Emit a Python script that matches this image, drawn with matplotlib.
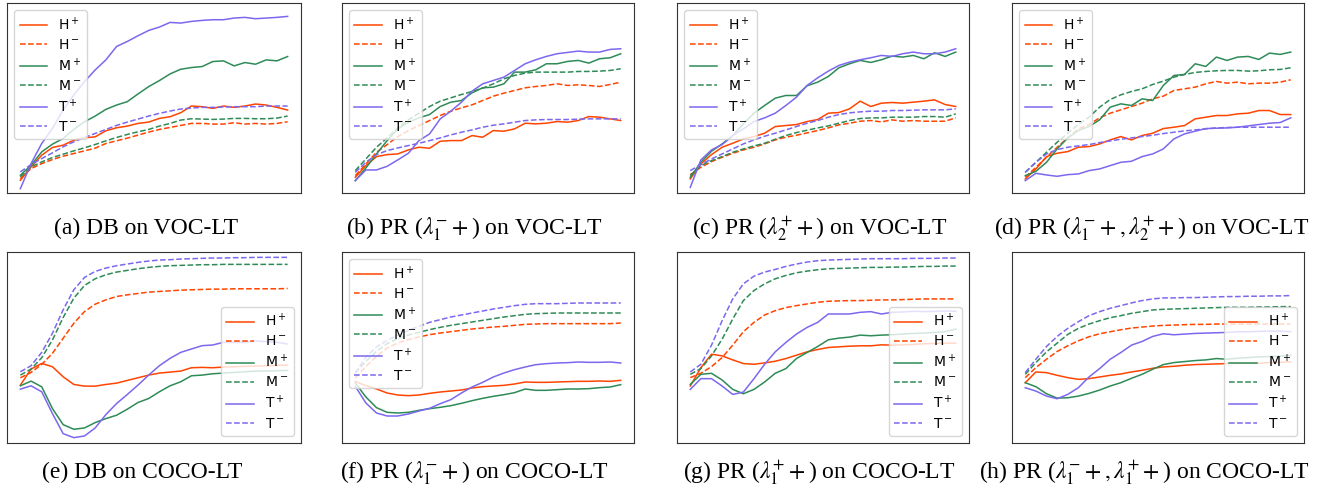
import matplotlib
matplotlib.use("Agg")
import matplotlib.pyplot as plt

epochs = list(range(0, 101, 4))

# ---- (a) DB on VOC-LT
a_Hp = [60, 100, 135, 158, 165, 180, 187, 190, 208, 217, 222, 230, 234, 245, 250, 262, 282, 280, 275, 282, 278, 282, 288, 285, 278, 270]
a_Hm = [65, 95, 110, 122, 132, 140, 148, 156, 170, 178, 186, 195, 204, 212, 218, 224, 230, 230, 228, 228, 232, 228, 230, 228, 230, 235]
a_Mp = [75, 105, 145, 168, 185, 212, 235, 252, 272, 285, 295, 318, 340, 358, 378, 392, 397, 400, 415, 417, 402, 412, 407, 420, 417, 430]
a_Mm = [70, 100, 115, 128, 138, 148, 157, 167, 178, 188, 197, 205, 212, 222, 230, 240, 244, 243, 242, 243, 245, 245, 244, 244, 246, 252]
a_Tp = [35, 110, 170, 215, 270, 315, 355, 390, 420, 460, 475, 492, 508, 518, 532, 530, 535, 538, 540, 540, 545, 547, 543, 545, 547, 550]
a_Tm = [85, 107, 125, 142, 160, 175, 188, 200, 212, 224, 234, 243, 252, 260, 267, 273, 276, 278, 278, 279, 280, 280, 280, 282, 282, 282]

# ---- (b) PR (lambda1- +) on VOC-LT
b_Hp = [70, 105, 132, 138, 140, 152, 160, 157, 178, 180, 180, 195, 190, 210, 208, 215, 232, 230, 232, 237, 235, 240, 252, 250, 245, 240]
b_Hm = [75, 110, 145, 168, 192, 210, 225, 240, 255, 268, 278, 287, 300, 313, 322, 330, 338, 342, 345, 350, 345, 347, 345, 342, 348, 355]
b_Mp = [60, 98, 140, 180, 215, 235, 248, 258, 282, 295, 300, 323, 338, 340, 350, 385, 385, 392, 410, 410, 417, 420, 412, 425, 428, 440]
b_Mm = [90, 125, 160, 188, 218, 242, 262, 282, 298, 308, 318, 327, 337, 350, 365, 375, 382, 385, 385, 385, 385, 387, 387, 388, 390, 395]
b_Tp = [60, 92, 92, 103, 122, 142, 180, 200, 245, 268, 295, 328, 350, 360, 370, 390, 410, 422, 432, 440, 444, 448, 445, 445, 453, 455]
b_Tm = [85, 115, 138, 150, 158, 165, 172, 180, 188, 197, 205, 212, 220, 226, 230, 235, 240, 242, 243, 243, 243, 244, 245, 245, 245, 245]

# ---- (c) PR (lambda2+ +) on VOC-LT
c_Hp = [65, 110, 138, 160, 172, 185, 192, 202, 222, 225, 228, 237, 243, 262, 264, 275, 298, 282, 292, 294, 292, 295, 298, 302, 288, 282]
c_Hm = [78, 100, 117, 130, 142, 152, 160, 170, 182, 190, 196, 203, 210, 218, 227, 232, 238, 240, 236, 242, 238, 240, 238, 238, 238, 248]
c_Mp = [70, 115, 148, 170, 195, 230, 262, 285, 307, 315, 315, 344, 355, 372, 398, 410, 420, 414, 422, 433, 430, 435, 425, 443, 432, 445]
c_Mm = [75, 105, 120, 132, 145, 155, 164, 172, 184, 195, 204, 211, 218, 224, 232, 240, 246, 248, 248, 250, 250, 250, 252, 252, 250, 260]
c_Tp = [40, 122, 152, 168, 195, 215, 237, 248, 262, 285, 310, 345, 368, 388, 405, 415, 422, 428, 435, 432, 440, 445, 440, 440, 445, 455]
c_Tm = [90, 108, 125, 140, 155, 170, 182, 193, 202, 212, 222, 232, 240, 250, 258, 263, 266, 268, 268, 270, 270, 271, 272, 272, 272, 275]

# ---- (d) PR (lambda1- +, lambda2+ +) on VOC-LT
d_Hp = [65, 95, 132, 142, 147, 160, 162, 170, 182, 192, 182, 195, 202, 216, 220, 225, 245, 250, 255, 255, 260, 262, 270, 270, 258, 258]
d_Hm = [70, 100, 130, 160, 188, 215, 228, 248, 262, 272, 282, 292, 305, 313, 330, 335, 340, 350, 357, 352, 355, 350, 352, 352, 355, 362]
d_Mp = [75, 88, 115, 155, 188, 210, 222, 242, 280, 290, 285, 305, 300, 345, 375, 378, 410, 402, 430, 420, 430, 432, 423, 442, 438, 445]
d_Mm = [85, 115, 145, 175, 202, 228, 250, 280, 303, 317, 327, 335, 348, 358, 370, 378, 384, 387, 389, 390, 390, 388, 389, 392, 393, 398]
d_Tp = [60, 82, 77, 73, 78, 80, 90, 95, 105, 115, 118, 132, 140, 155, 185, 200, 208, 216, 217, 218, 220, 224, 228, 232, 234, 248]
d_Tm = [85, 115, 140, 153, 160, 164, 168, 174, 179, 184, 188, 192, 196, 201, 205, 209, 212, 215, 218, 219, 220, 220, 220, 220, 220, 220]

# ---- (e) DB on COCO-LT
e_Hp = [180, 228, 245, 235, 205, 182, 177, 177, 182, 186, 194, 202, 210, 216, 219, 222, 232, 233, 232, 234, 235, 236, 237, 238, 239, 240]
e_Hm = [202, 218, 242, 275, 320, 365, 400, 422, 435, 445, 450, 454, 458, 460, 462, 464, 465, 466, 467, 467, 468, 468, 468, 468, 468, 469]
e_Mp = [178, 192, 175, 110, 62, 48, 52, 68, 80, 90, 108, 128, 140, 160, 178, 190, 208, 210, 214, 216, 218, 220, 222, 222, 223, 224]
e_Mm = [210, 228, 262, 315, 382, 440, 478, 498, 510, 518, 523, 528, 532, 535, 537, 538, 539, 540, 540, 541, 541, 541, 541, 541, 541, 541]
e_Tp = [168, 178, 160, 95, 35, 23, 28, 52, 92, 125, 152, 180, 210, 238, 260, 278, 288, 298, 300, 308, 308, 308, 312, 310, 308, 303]
e_Tm = [220, 238, 278, 335, 405, 465, 502, 520, 530, 537, 542, 547, 551, 554, 555, 557, 558, 559, 560, 560, 561, 561, 562, 562, 562, 562]

# ---- (f) PR (lambda1- +) on COCO-LT
f_Hp = [195, 182, 172, 160, 154, 152, 154, 159, 163, 166, 169, 175, 179, 181, 183, 187, 193, 192, 192, 193, 194, 195, 195, 196, 195, 198]
f_Hm = [205, 240, 270, 295, 310, 320, 328, 335, 340, 344, 348, 352, 355, 358, 360, 363, 366, 367, 368, 368, 368, 368, 368, 368, 368, 370]
f_Mp = [190, 148, 116, 102, 100, 102, 108, 113, 117, 122, 129, 137, 144, 150, 155, 161, 172, 168, 168, 170, 172, 172, 173, 176, 178, 185]
f_Mm = [220, 255, 285, 308, 323, 334, 342, 350, 357, 363, 368, 373, 378, 383, 388, 392, 396, 398, 399, 400, 400, 400, 400, 400, 400, 400]
f_Tp = [180, 130, 100, 91, 91, 97, 106, 114, 128, 140, 160, 178, 192, 208, 220, 230, 238, 245, 248, 250, 251, 253, 252, 252, 253, 250]
f_Tm = [220, 268, 298, 318, 334, 348, 360, 372, 380, 388, 394, 400, 406, 412, 417, 422, 426, 428, 428, 428, 429, 430, 430, 430, 430, 430]

# ---- (g) PR (lambda1+ +) on COCO-LT
g_Hp = [180, 235, 275, 270, 258, 247, 245, 249, 254, 262, 272, 282, 289, 295, 297, 299, 300, 300, 303, 302, 303, 304, 306, 307, 308, 308]
g_Hm = [205, 218, 238, 265, 302, 342, 370, 392, 405, 414, 420, 425, 430, 433, 434, 435, 435, 436, 437, 437, 438, 439, 440, 440, 440, 440]
g_Mp = [185, 215, 218, 198, 170, 157, 170, 192, 218, 232, 262, 280, 298, 318, 323, 326, 332, 330, 332, 333, 335, 337, 338, 340, 342, 350]
g_Mm = [215, 232, 270, 320, 380, 435, 465, 485, 500, 510, 518, 523, 527, 530, 531, 532, 533, 534, 534, 535, 535, 536, 537, 537, 538, 538]
g_Tp = [170, 202, 202, 180, 155, 162, 202, 245, 282, 310, 335, 355, 370, 395, 395, 395, 400, 402, 395, 400, 401, 403, 402, 403, 404, 403]
g_Tm = [222, 245, 302, 375, 440, 485, 508, 520, 528, 537, 544, 550, 554, 556, 557, 558, 559, 560, 560, 560, 560, 561, 561, 561, 562, 562]

# ---- (h) PR (lambda1- +, lambda1+ +) on COCO-LT
h_Hp = [190, 222, 220, 212, 205, 200, 202, 207, 212, 216, 222, 227, 233, 237, 239, 242, 244, 245, 246, 247, 248, 248, 248, 250, 251, 252]
h_Hm = [205, 235, 260, 283, 300, 315, 327, 336, 342, 348, 353, 356, 359, 361, 362, 363, 364, 364, 365, 365, 365, 365, 365, 365, 365, 365]
h_Mp = [190, 178, 157, 144, 145, 150, 158, 168, 180, 190, 203, 215, 230, 244, 250, 253, 256, 258, 262, 260, 263, 265, 267, 268, 269, 272]
h_Mm = [215, 250, 282, 308, 334, 352, 365, 375, 384, 390, 397, 402, 407, 409, 410, 411, 412, 413, 414, 415, 415, 415, 416, 416, 417, 417]
h_Tp = [175, 165, 150, 142, 155, 175, 207, 232, 260, 280, 302, 313, 328, 336, 333, 335, 337, 338, 339, 340, 342, 342, 343, 344, 344, 342]
h_Tm = [220, 260, 298, 328, 352, 372, 390, 402, 412, 420, 428, 435, 440, 443, 443, 444, 444, 445, 446, 447, 447, 448, 448, 449, 449, 450]

series_labels = ['H$^+$', 'H$^-$', 'M$^+$', 'M$^-$', 'T$^+$', 'T$^-$']
captions = [
    '(a) DB on VOC-LT',
    r'(b) PR ($\lambda_1^{-}+$) on VOC-LT',
    r'(c) PR ($\lambda_2^{+}+$) on VOC-LT',
    r'(d) PR ($\lambda_1^{-}+, \lambda_2^{+}+$) on VOC-LT',
    '(e) DB on COCO-LT',
    r'(f) PR ($\lambda_1^{-}+$) on COCO-LT',
    r'(g) PR ($\lambda_1^{+}+$) on COCO-LT',
    r'(h) PR ($\lambda_1^{-}+, \lambda_1^{+}+$) on COCO-LT',
]
panels = [
    (a_Hp, a_Hm, a_Mp, a_Mm, a_Tp, a_Tm),
    (b_Hp, b_Hm, b_Mp, b_Mm, b_Tp, b_Tm),
    (c_Hp, c_Hm, c_Mp, c_Mm, c_Tp, c_Tm),
    (d_Hp, d_Hm, d_Mp, d_Mm, d_Tp, d_Tm),
    (e_Hp, e_Hm, e_Mp, e_Mm, e_Tp, e_Tm),
    (f_Hp, f_Hm, f_Mp, f_Mm, f_Tp, f_Tm),
    (g_Hp, g_Hm, g_Mp, g_Mm, g_Tp, g_Tm),
    (h_Hp, h_Hm, h_Mp, h_Mm, h_Tp, h_Tm),
]
ylims = [(22, 590), (23, 592), (23, 592), (23, 592),
         (7, 578), (10, 583), (10, 580), (10, 580)]
legend_locs = ['upper left'] * 4 + ['lower right', 'upper left', 'lower right', 'lower right']

colors = ['#FF4500', '#FF4500', '#2E8B57', '#2E8B57', '#7B68EE', '#7B68EE']
styles = ['-', '--', '-', '--', '-', '--']

W, H = 1330, 495
fig = plt.figure(figsize=(W / 100, H / 100), dpi=100)

col_px = [(7, 301), (342, 634), (677, 969), (1012, 1304)]
row_px = [(3, 193), (252, 443)]
caption_base = [234, 478]
caption_cx = [146, 474, 820, 1152, 142, 474, 819, 1144]

for i, data in enumerate(panels):
    r, c = divmod(i, 4)
    x0, x1 = col_px[c]
    y0, y1 = row_px[r]
    ax = fig.add_axes([x0 / W, 1 - y1 / H, (x1 - x0) / W, (y1 - y0) / H])
    for vals, lab, col, ls in zip(data, series_labels, colors, styles):
        ax.plot(epochs, vals, color=col, linestyle=ls, linewidth=1.1, label=lab)
    ax.set_ylim(*ylims[i])
    ax.set_xticks([])
    ax.set_yticks([])
    for sp in ax.spines.values():
        sp.set_color('#333333')
        sp.set_linewidth(0.8)
    ax.legend(loc=legend_locs[i], fontsize=10, labelspacing=0.35)
    fig.text(caption_cx[i] / W, 1 - caption_base[r] / H, captions[i],
             ha='center', va='baseline', fontsize=17,
             family='Liberation Serif', math_fontfamily='stix')

fig.savefig('out.png', dpi=100)
